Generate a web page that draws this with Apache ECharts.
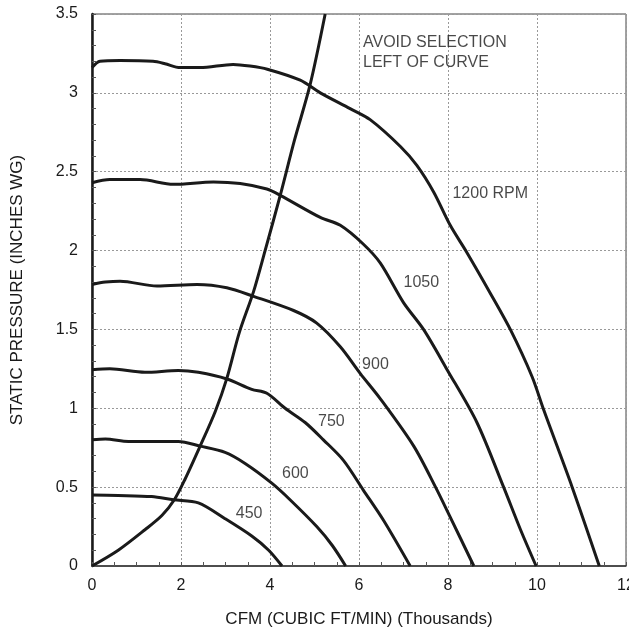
<!DOCTYPE html>
<html>
<head>
<meta charset="utf-8">
<script src="https://cdn.jsdelivr.net/npm/echarts@6/dist/echarts.min.js"></script>
<style>
  html, body { margin: 0; padding: 0; background: #fff; }
  #chart { width: 629px; height: 630px; }
</style>
</head>
<body>
<div id="chart"></div>
<script>
// fan curves, [cfm thousands, static pressure]
var rpm1200 = [[0, 3.16], [0.18, 3.2], [0.63, 3.205], [1.37, 3.2], [1.64, 3.185], [1.98, 3.16], [2.43, 3.16], [3.17, 3.18], [3.55, 3.17], [3.94, 3.15], [4.68, 3.08], [5.13, 3.0], [5.8, 2.9], [6.25, 2.83], [6.93, 2.66], [7.3, 2.54], [7.68, 2.37], [8.05, 2.16], [8.43, 1.985], [8.95, 1.73], [9.4, 1.5], [9.89, 1.2], [10.15, 0.99], [10.79, 0.5], [11.4, 0]];
var rpm1050 = [[0, 2.43], [0.4, 2.45], [1.08, 2.45], [1.83, 2.42], [2.73, 2.435], [3.33, 2.425], [3.93, 2.39], [4.23, 2.35], [5.13, 2.21], [5.58, 2.16], [6.1, 2.04], [6.48, 1.92], [7.0, 1.67], [7.45, 1.5], [7.98, 1.245], [8.65, 0.91], [9.25, 0.5], [9.63, 0.23], [9.98, 0]];
var rpm900 = [[0, 1.785], [0.3, 1.8], [0.63, 1.806], [1.46, 1.775], [2.36, 1.785], [3.03, 1.764], [3.63, 1.71], [4.53, 1.62], [5.05, 1.54], [5.58, 1.39], [6.03, 1.22], [6.48, 1.06], [7.23, 0.76], [7.72, 0.5], [8.05, 0.31], [8.58, 0]];
var rpm750 = [[0, 1.245], [0.4, 1.25], [1.19, 1.228], [1.94, 1.24], [2.39, 1.228], [3.03, 1.186], [3.59, 1.12], [3.93, 1.095], [4.34, 1.0], [4.79, 0.91], [5.2, 0.8], [5.65, 0.67], [6.1, 0.48], [6.55, 0.29], [7.15, 0]];
var rpm600 = [[0, 0.8], [0.3, 0.805], [0.82, 0.79], [1.94, 0.79], [2.43, 0.76], [2.99, 0.72], [3.44, 0.65], [4.04, 0.525], [4.45, 0.42], [5.05, 0.25], [5.4, 0.13], [5.7, 0]];
var rpm450 = [[0, 0.45], [0.59, 0.447], [1.34, 0.44], [1.83, 0.42], [2.39, 0.4], [2.99, 0.3], [3.59, 0.19], [3.97, 0.1], [4.27, 0]];
// selection limit curve
var limitCurve = [[0, 0], [0.59, 0.1], [1.19, 0.23], [1.57, 0.32], [1.85, 0.42], [2.09, 0.55], [2.43, 0.76], [2.77, 0.98], [3.03, 1.19], [3.31, 1.48], [3.63, 1.74], [3.89, 2.0], [4.23, 2.35], [4.55, 2.7], [4.9, 3.05], [5.24, 3.5]];

// text notes on the chart: [x, y, text]
var notes = [
  [8.1, 2.36, "1200 RPM"],
  [7.0, 1.795, "1050"],
  [6.07, 1.275, "900"],
  [5.08, 0.915, "750"],
  [4.27, 0.585, "600"],
  [3.23, 0.335, "450"],
  [6.09, 3.32, "AVOID SELECTION"],
  [6.09, 3.19, "LEFT OF CURVE"]
];

var xTitle = "CFM (CUBIC FT/MIN) (Thousands)";
var yTitle = "STATIC PRESSURE (INCHES WG)";

var font = "Liberation Sans";
var ink = "#1a1a1a";

var myChart = echarts.init(document.getElementById("chart"));

function curve(name, data) {
  return {
    name: name,
    type: "line",
    data: data,
    smooth: 0.3,
    showSymbol: false,
    symbol: "none",
    lineStyle: { color: ink, width: 3 },
    z: 3
  };
}

var option = {
  animation: false,
  grid: {
    left: 92,
    right: 3,
    top: 14,
    bottom: 64,
    outerBoundsMode: "none",
    show: true,
    borderColor: "#444",
    borderWidth: 1
  },
  xAxis: {
    type: "value",
    min: 0,
    max: 12,
    interval: 2,
    name: xTitle,
    nameLocation: "middle",
    nameGap: 45,
    nameTextStyle: { fontFamily: font, fontSize: 17, color: "#1a1a1a" },
    axisLine: { show: true, onZero: false, lineStyle: { color: "#333", width: 1.5 } },
    axisTick: { show: true, inside: true, length: 4, lineStyle: { color: "#555" } },
    minorTick: { show: true, splitNumber: 4, length: 4, lineStyle: { color: "#555" } },
    axisLabel: { fontFamily: font, fontSize: 16, color: "#1a1a1a", margin: 12 },
    splitLine: { show: true, lineStyle: { color: "#999", type: [2, 2], width: 1 } }
  },
  yAxis: {
    type: "value",
    min: 0,
    max: 3.5,
    interval: 0.5,
    name: yTitle,
    nameLocation: "middle",
    nameGap: 66,
    nameTextStyle: { fontFamily: font, fontSize: 17, color: "#1a1a1a" },
    axisLine: { show: true, onZero: false, lineStyle: { color: ink, width: 2.5 } },
    axisTick: { show: true, inside: true, length: 4, lineStyle: { color: "#555" } },
    minorTick: { show: true, splitNumber: 5, length: 4, lineStyle: { color: "#555" } },
    axisLabel: { fontFamily: font, fontSize: 16, color: "#1a1a1a", margin: 14 },
    splitLine: { show: true, lineStyle: { color: "#999", type: [2, 2], width: 1 } }
  },
  series: [
    curve("1200", rpm1200),
    curve("1050", rpm1050),
    curve("900", rpm900),
    curve("750", rpm750),
    curve("600", rpm600),
    curve("450", rpm450),
    curve("limit", limitCurve),
    {
      name: "notes",
      type: "scatter",
      data: notes,
      symbolSize: 0,
      silent: true,
      label: {
        show: true,
        position: "right",
        distance: 0,
        fontFamily: font,
        fontSize: 16,
        color: "#1a1a1a",
        formatter: function (p) { return p.data[2]; }
      },
      z: 4
    }
  ]
};
myChart.setOption(option);
</script>
</body>
</html>
